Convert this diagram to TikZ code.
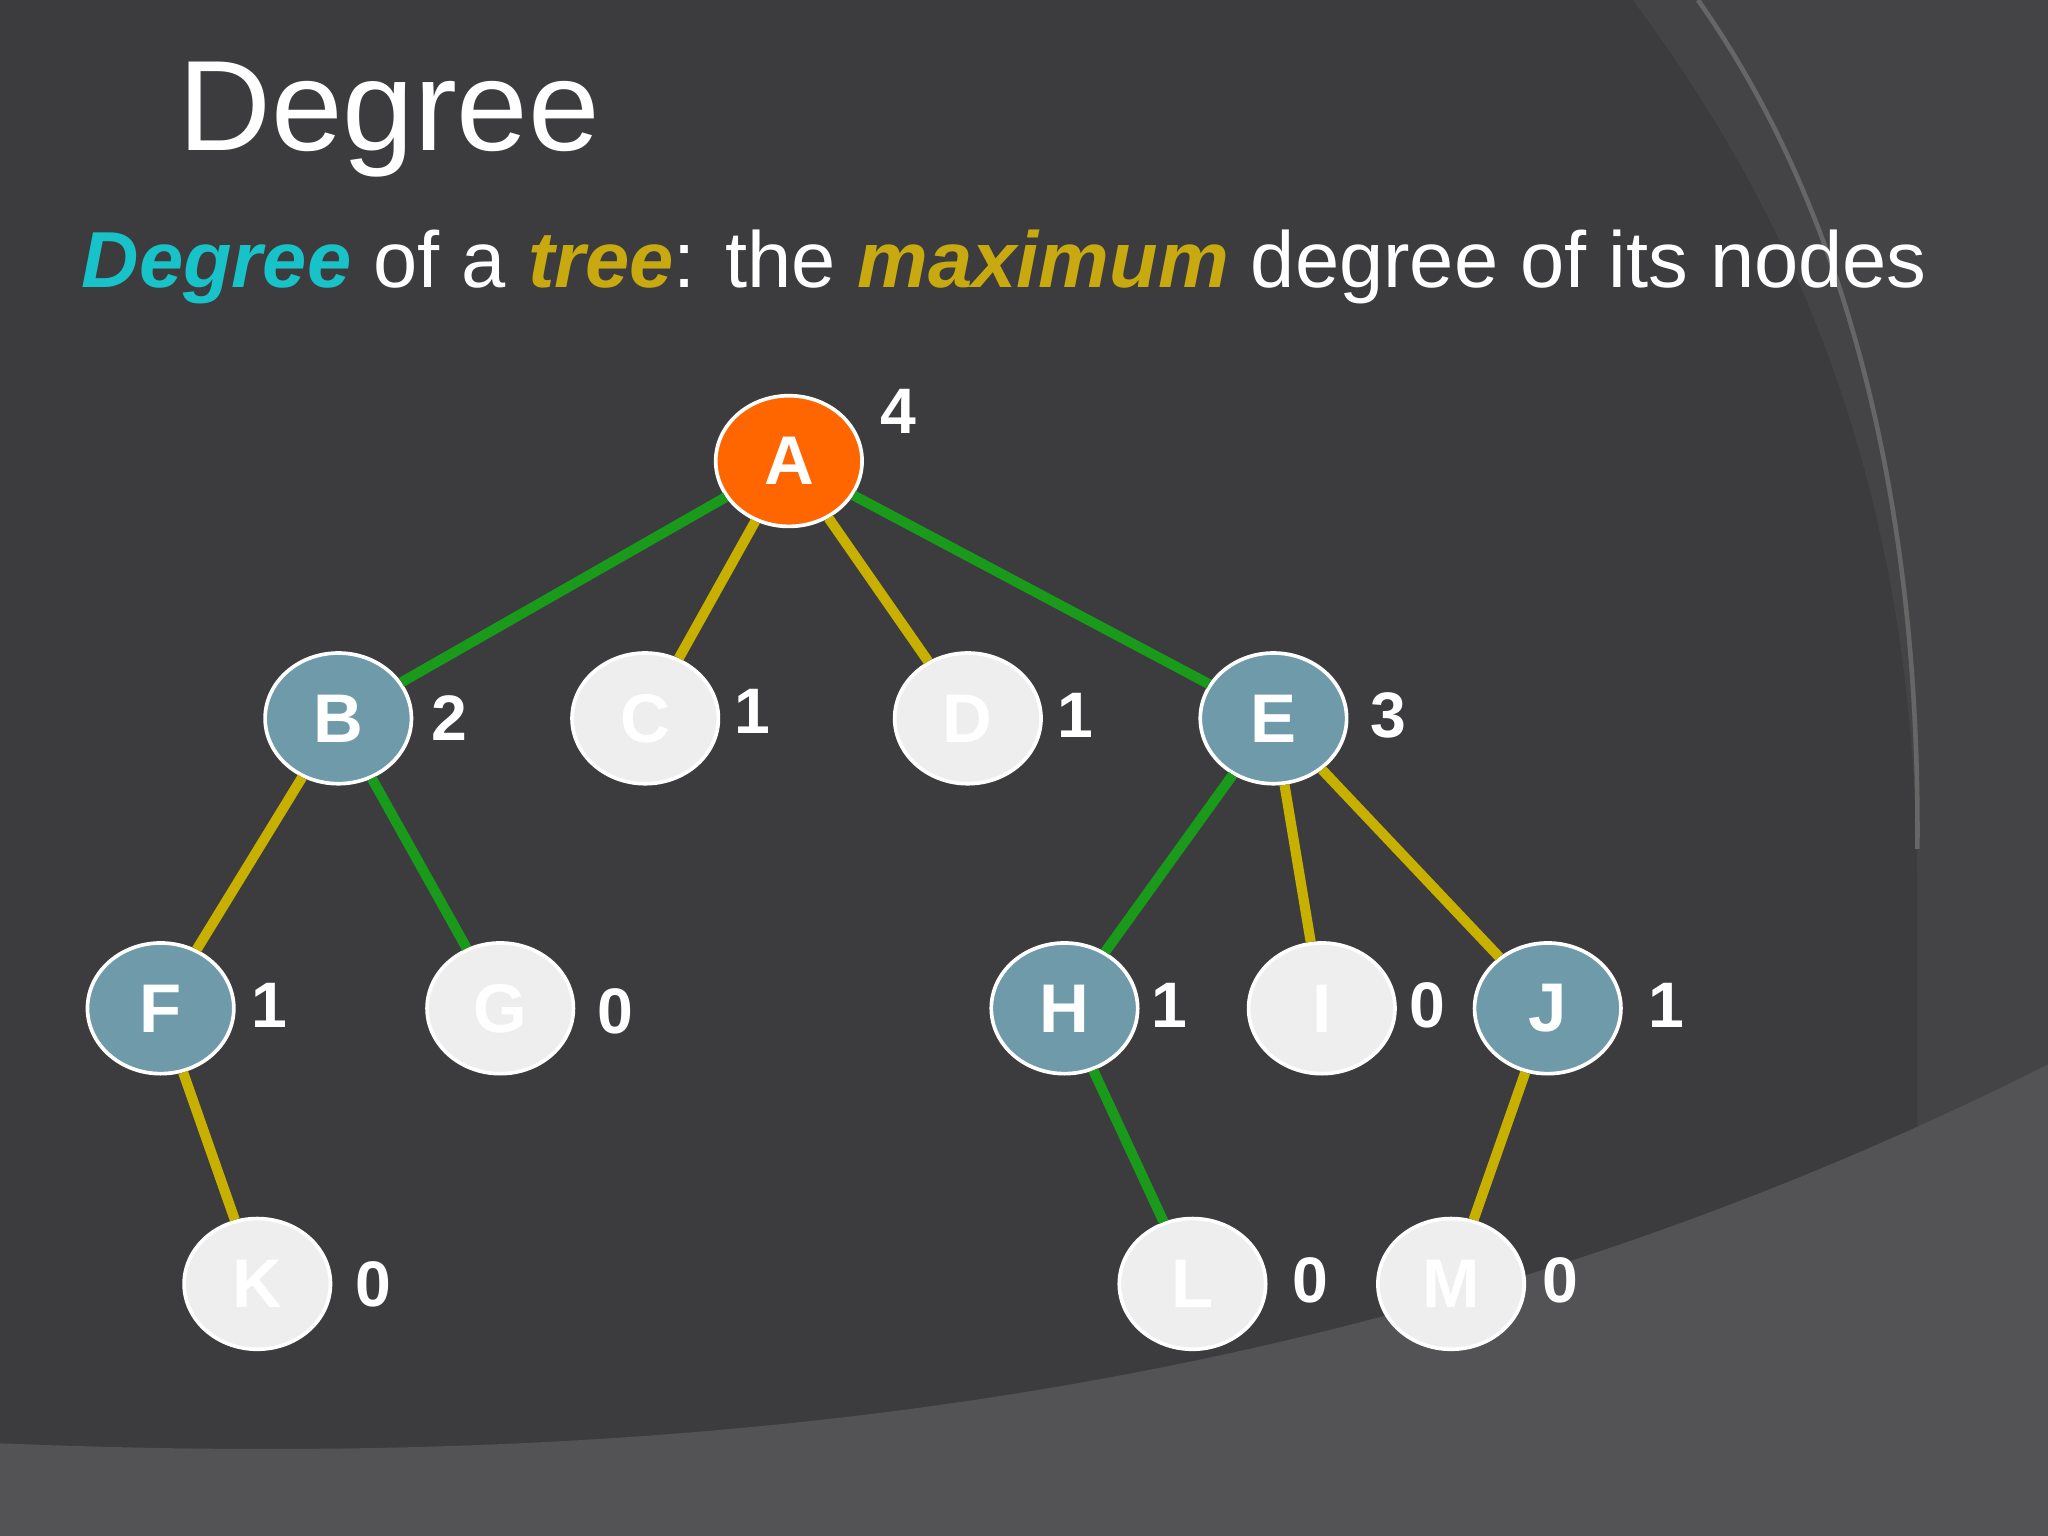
\documentclass[tikz,border=0pt]{standalone}
\usepackage{fontspec}
\setmainfont{Liberation Sans}
\usetikzlibrary{shapes.geometric}
\definecolor{bg}{HTML}{3C3C3E}
\definecolor{bgl}{HTML}{535355}
\definecolor{bgm}{HTML}{444446}
\definecolor{orng}{HTML}{FF6600}
\definecolor{teal}{HTML}{6E9AAA}
\definecolor{wht}{HTML}{EEEEEE}
\definecolor{grn}{HTML}{1A9A1A}
\definecolor{ylw}{HTML}{C8B000}
\definecolor{cyn}{HTML}{17C3C8}
\definecolor{olv}{HTML}{C8AA10}
\tikzset{
 tn/.style={ellipse,draw=white,line width=0.8pt,minimum width=1.12cm,minimum height=1.0cm,inner sep=0pt,text=white,font=\bfseries\fontsize{15}{15}\selectfont},
 orn/.style={tn,fill=orng},
 tln/.style={tn,fill=teal},
 whn/.style={tn,fill=wht},
 deg/.style={text=white,font=\bfseries\fontsize{14}{14}\selectfont},
 ge/.style={grn,line width=2.2pt},
 ye/.style={ylw,line width=2.2pt}
}
\begin{document}
\begin{tikzpicture}[x=0.01cm,y=-0.01cm]
\fill[bg] (0,0) rectangle (1568,1176);
\useasboundingbox (0,0) rectangle (1568,1176);
\fill[bgm] (1250,0) .. controls (1400,200) and (1470,420) .. (1468,700) -- (1468,1176) -- (1568,1176) -- (1568,0) -- cycle;
\fill[bgl] (0,1105) .. controls (600,1130) and (1100,1050) .. (1568,815) -- (1568,1176) -- (0,1176) -- cycle;
\draw[black!60,line width=1pt] (1300,0) .. controls (1420,170) and (1470,400) .. (1468,650);
\node[anchor=base west,text=white,font=\fontsize{28}{28}\selectfont] (title) at (124,115) {Degree};
\node[anchor=base west,text=white,inner sep=0pt,font=\fontsize{17.3}{17.3}\selectfont] (sub) at (62,220) {\textcolor{cyn}{\bfseries\itshape Degree} of a \textcolor{olv}{\bfseries\itshape tree}: the \textcolor{olv}{\bfseries\itshape maximum} degree of its nodes};
\node[orn] (A) at (604,353) {A};
\node[tln] (B) at (259,550) {B};
\node[whn] (C) at (494,550) {C};
\node[whn] (D) at (741,550) {D};
\node[tln] (E) at (975,550) {E};
\node[tln] (F) at (123,772) {F};
\node[whn] (G) at (383,772) {G};
\node[tln] (H) at (815,772) {H};
\node[whn] (I) at (1012,772) {I};
\node[tln] (J) at (1185,772) {J};
\node[whn] (K) at (197,983) {K};
\node[whn] (L) at (913,983) {L};
\node[whn] (M) at (1111,983) {M};
\begin{scope}[on background layer/.style={}]
\end{scope}
\draw[ge] (A) -- (B); \draw[ge] (A) -- (E); \draw[ge] (B) -- (G);
\draw[ge] (E) -- (H); \draw[ge] (H) -- (L);
\draw[ye] (A) -- (C); \draw[ye] (A) -- (D); \draw[ye] (B) -- (F);
\draw[ye] (E) -- (I); \draw[ye] (E) -- (J); \draw[ye] (F) -- (K); \draw[ye] (J) -- (M);
\node[deg] (dA) at (688,315) {4};
\node[deg] (dB) at (344,550) {2};
\node[deg] (dC) at (576,545) {1};
\node[deg] (dD) at (823,548) {1};
\node[deg] (dE) at (1063,548) {3};
\node[deg] (dF) at (206,770) {1};
\node[deg] (dG) at (471,774) {0};
\node[deg] (dH) at (895,770) {1};
\node[deg] (dI) at (1093,770) {0};
\node[deg] (dJ) at (1276,770) {1};
\node[deg] (dK) at (286,983) {0};
\node[deg] (dL) at (1003,980) {0};
\node[deg] (dM) at (1195,980) {0};
\end{tikzpicture}
\end{document}
